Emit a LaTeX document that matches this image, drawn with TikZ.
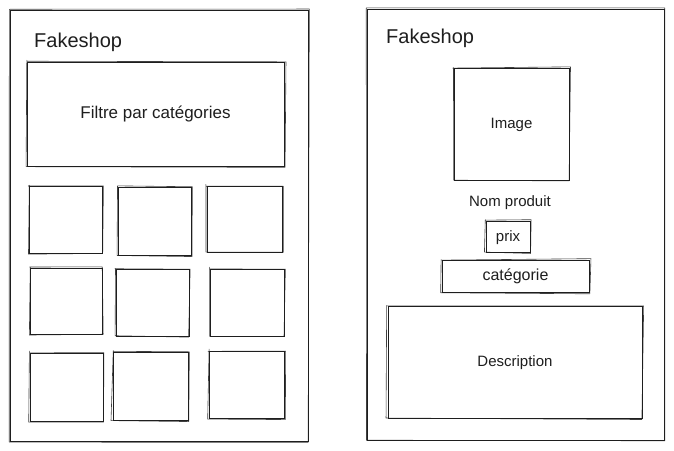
\documentclass[tikz,border=0pt]{standalone}
\usepackage{fontspec}
\setmainfont{Liberation Sans}
\definecolor{inkc}{HTML}{1E1E1E}

% A sketchy rectangle: a named node drawn once, plus a second, slightly
% jittered pass around its corners for the hand-drawn look.
% #1 name, #2 x1, #3 y1, #4 x2, #5 y2, #6 label, #7 font size
\newcommand{\roughbox}[7]{%
  \node[box, font=\fontsize{#7}{#7}\selectfont,
        minimum width={(#4-#2)*1pt}, minimum height={(#5-#3)*1pt}]
    (#1) at ({(#2+#4)/2},{(#3+#5)/2}) {#6};
  \draw[pass]
    ([shift={({rand*0.9},{rand*0.9})}]#1.north west) --
    ([shift={({rand*0.9+0.6},{rand*0.9})}]#1.north east) --
    ([shift={({rand*0.9},{rand*0.9+0.6})}]#1.south east) --
    ([shift={({rand*0.9-0.6},{rand*0.9})}]#1.south west) --
    ([shift={({rand*0.9},{rand*0.9-0.5})}]#1.north west);
}

\begin{document}
\begin{tikzpicture}[x=1pt, y=-1pt,
  box/.style={draw=inkc, line width=1.0pt, rectangle, inner sep=0pt,
              text=inkc, text height=1.1em, text depth=0.2em},
  pass/.style={draw=inkc, line width=0.6pt, line join=round,
               line cap=round, opacity=0.85},
  title/.style={text=inkc, inner sep=0pt, anchor=west,
                font=\fontsize{20}{20}\selectfont},
  caption/.style={text=inkc, inner sep=0pt,
                  font=\fontsize{15}{15}\selectfont}]
\pgfmathsetseed{11}
\useasboundingbox[fill=white] (0,0) rectangle (674,450);

% ---- product list page ----
\roughbox{listframe}{10}{10}{308}{441}{}{16}
\node[title] (listtitle) at (34,42) {Fakeshop};
\roughbox{filter}{27}{62}{284}{166}{Filtre par catégories}{17}

\roughbox{c11}{29}{186}{102}{253}{}{16}
\roughbox{c12}{118}{187}{191}{255}{}{16}
\roughbox{c13}{207}{186}{282}{252}{}{16}
\roughbox{c21}{30}{268}{102}{334}{}{16}
\roughbox{c22}{116}{269}{189}{336}{}{16}
\roughbox{c23}{210}{269}{284}{336}{}{16}
\roughbox{c31}{30}{353}{103}{421}{}{16}
\roughbox{c32}{113}{352}{188}{420}{}{16}
\roughbox{c33}{209}{351}{284}{418}{}{16}

% ---- product detail page ----
\roughbox{detailframe}{367}{9}{664}{440}{}{16}
\node[title] (detailtitle) at (386,38) {Fakeshop};
\roughbox{image}{454}{68}{569}{180}{Image}{15}
\node[caption] (name) at (510,203) {Nom produit};
\roughbox{price}{486}{221}{530}{252}{prix}{15}
\roughbox{category}{442}{260}{589}{292}{catégorie}{16}
\roughbox{description}{388}{306}{642}{418}{Description}{15}
\end{tikzpicture}
\end{document}
